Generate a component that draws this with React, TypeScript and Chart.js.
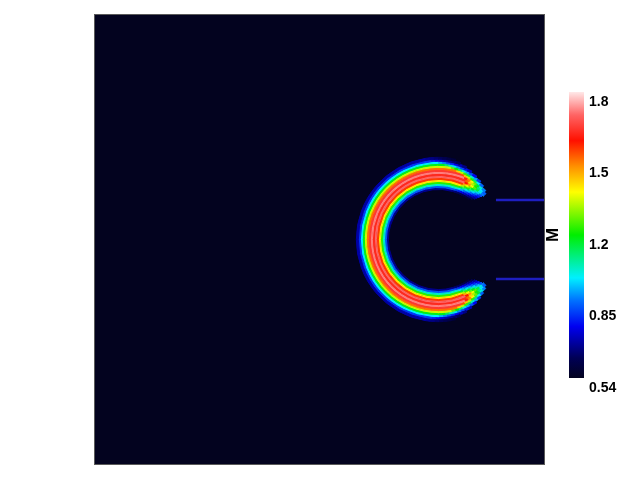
import { useEffect, useRef } from 'react'
import { Chart, registerables } from 'chart.js'

Chart.register(...registerables)
Chart.defaults.font.family = "'Liberation Sans', Arial, sans-serif"

// colour scale of the field M
const VALUE_MIN = 0.54
const VALUE_MAX = 1.8
const COLORBAR_TICKS = [0.54, 0.855, 1.17, 1.485, 1.8]
const COLORBAR_LABELS = ['0.54', '0.85', '1.2', '1.5', '1.8']
const COLOR_STOPS: [number, string][] = [
    [0, '#03031f'],
    [0.07, '#000055'],
    [0.18, '#0000f0'],
    [0.27, '#0070ff'],
    [0.35, '#00f0ff'],
    [0.5, '#00ee00'],
    [0.65, '#ffff00'],
    [0.74, '#ff9000'],
    [0.83, '#ff1000'],
    [0.92, '#ff6464'],
    [1, '#ffe8e8'],
]

// field domain is the unit square
const SLIT_X = [0.893, 1]
const SLIT_Y = [0.588, 0.412]

// the C shaped ring
const RING_CENTER = [0.766, 0.5]
const RING_OUTER = 0.183
const RING_INNER = 0.114
// M across the ring, outer edge -> inner edge
const LAYER_VALUES = [0.7, 0.82, 0.98, 1.15, 1.32, 1.5, 1.64, 1.72, 1.62, 1.7, 1.55, 1.38, 1.2, 1.02, 0.86, 0.68]
// angle (deg from the +x direction) where each layer ends at the open side
const LAYER_END_ANGLE = [78, 74, 69, 64, 59, 54, 50, 46, 44, 44, 45, 46, 47, 48, 50, 53]
// share of the value left in the steps towards the tips
const TIP_FADE = [0.9, 0.8, 0.7, 0.6, 0.5, 0.4, 0.3]
const TIP_STEP = 3

const BG = '#03031f'
const CLEAR = 'rgba(0,0,0,0)'

function hexRgb(h: string) {
    const n = parseInt(h.slice(1), 16)
    return [(n >> 16) & 255, (n >> 8) & 255, n & 255]
}

function colorFor(v: number) {
    const t = Math.min(1, Math.max(0, (v - VALUE_MIN) / (VALUE_MAX - VALUE_MIN)))
    for (let i = 1; i < COLOR_STOPS.length; i++) {
        const [t1, c1] = COLOR_STOPS[i]
        if (t <= t1) {
            const [t0, c0] = COLOR_STOPS[i - 1]
            const f = (t - t0) / (t1 - t0)
            const a = hexRgb(c0)
            const b = hexRgb(c1)
            const rgb = a.map((x, k) => Math.round(x + (b[k] - x) * f))
            return `rgb(${rgb.join(',')})`
        }
    }
    return COLOR_STOPS[COLOR_STOPS.length - 1][1]
}

const fieldFrame = {
    id: 'fieldFrame',
    beforeDatasetsDraw(chart: Chart) {
        const { ctx, chartArea: a } = chart
        ctx.save()
        ctx.fillStyle = BG
        ctx.fillRect(a.left, a.top, a.right - a.left, a.bottom - a.top)
        ctx.restore()
    },
    afterDatasetsDraw(chart: Chart) {
        const { ctx, chartArea: a } = chart
        ctx.save()
        ctx.strokeStyle = '#5a5a5a'
        ctx.lineWidth = 1
        ctx.strokeRect(a.left - 0.5, a.top - 0.5, a.right - a.left + 1, a.bottom - a.top + 1)
        ctx.restore()
    },
}

export default function App() {
    const mainRef = useRef<HTMLCanvasElement | null>(null)
    const ringRef = useRef<HTMLCanvasElement | null>(null)
    const barRef = useRef<HTMLCanvasElement | null>(null)

    useEffect(() => {
        document.body.style.margin = '0'
        if (!mainRef.current || !ringRef.current || !barRef.current) return

        const main = new Chart(mainRef.current, {
            type: 'scatter',
            data: {
                datasets: SLIT_Y.map(y => ({
                    data: SLIT_X.map(x => ({ x, y })),
                    showLine: true,
                    borderColor: '#1e1ec0',
                    borderWidth: 2.5,
                    pointRadius: 0,
                })),
            },
            options: {
                responsive: false,
                animation: false,
                events: [],
                layout: { padding: { left: 95, top: 15, right: 96, bottom: 16 } },
                scales: {
                    x: { type: 'linear', min: 0, max: 1, display: false },
                    y: { type: 'linear', min: 0, max: 1, display: false },
                },
                plugins: { legend: { display: false }, tooltip: { enabled: false } },
            },
            plugins: [fieldFrame],
        })

        // place the ring canvas from the field's scales
        const xs = main.scales.x
        const ys = main.scales.y
        const cx = xs.getPixelForValue(RING_CENTER[0])
        const cy = ys.getPixelForValue(RING_CENTER[1])
        const R = xs.getPixelForValue(RING_CENTER[0] + RING_OUTER) - cx
        const r = xs.getPixelForValue(RING_CENTER[0] + RING_INNER) - cx
        const size = Math.ceil(2 * R) + 4
        const rc = ringRef.current
        rc.width = size
        rc.height = size
        rc.style.left = `${cx - size / 2}px`
        rc.style.top = `${cy - size / 2}px`

        const ring = new Chart(rc, {
            type: 'doughnut',
            data: {
                datasets: LAYER_VALUES.map((v, i) => {
                    const gap = LAYER_END_ANGLE[i]
                    const tips = TIP_FADE.map(f => colorFor(VALUE_MIN + (v - VALUE_MIN) * f))
                    const body = 360 - 2 * gap - 2 * TIP_FADE.length * TIP_STEP
                    const steps = TIP_FADE.map(() => TIP_STEP)
                    const colors = [CLEAR, ...[...tips].reverse(), colorFor(v), ...tips, CLEAR]
                    return {
                        data: [gap, ...steps, body, ...steps, gap],
                        backgroundColor: colors,
                        borderColor: colors,
                        borderWidth: 1,
                    }
                }),
            },
            options: {
                responsive: false,
                animation: false,
                events: [],
                radius: R,
                cutout: r,
                rotation: 90,
                layout: { padding: 0 },
                plugins: { legend: { display: false }, tooltip: { enabled: false } },
            },
        })

        const colorbar = new Chart(barRef.current, {
            type: 'bar',
            data: {
                labels: ['M'],
                datasets: [
                    {
                        data: [[VALUE_MIN, VALUE_MAX]],
                        barPercentage: 1,
                        categoryPercentage: 1,
                        borderWidth: 0,
                        backgroundColor: (c: any) => {
                            const { ctx, chartArea } = c.chart
                            if (!chartArea) return CLEAR
                            const g = ctx.createLinearGradient(0, chartArea.bottom, 0, chartArea.top)
                            COLOR_STOPS.forEach(([t, col]) => g.addColorStop(t, col))
                            return g
                        },
                    },
                ],
            },
            options: {
                responsive: false,
                animation: false,
                events: [],
                layout: { padding: { top: 92, bottom: 102, left: 0, right: 0 } },
                scales: {
                    x: { display: false },
                    y: {
                        position: 'right',
                        min: VALUE_MIN,
                        max: VALUE_MAX,
                        afterBuildTicks: (s: any) => {
                            s.ticks = COLORBAR_TICKS.map(value => ({ value }))
                        },
                        afterFit: (s: any) => {
                            s.width = 56
                        },
                        grid: { display: false, drawTicks: false },
                        border: { display: false },
                        ticks: {
                            autoSkip: false,
                            labelOffset: 10,
                            padding: 5,
                            color: '#000',
                            font: { size: 14, weight: 'bold' },
                            callback: (_v: any, i: number) => COLORBAR_LABELS[i],
                        },
                    },
                    yLabel: {
                        axis: 'y',
                        type: 'linear',
                        position: 'left',
                        min: VALUE_MIN,
                        max: VALUE_MAX,
                        afterFit: (s: any) => {
                            s.width = 29
                        },
                        grid: { display: false, drawTicks: false },
                        border: { display: false },
                        ticks: { display: false },
                        title: {
                            display: true,
                            text: 'M',
                            color: '#000',
                            font: { size: 17, weight: 'bold' },
                            padding: { top: 3, bottom: 0 },
                        },
                    },
                },
                plugins: { legend: { display: false }, tooltip: { enabled: false } },
            },
        })

        return () => {
            main.destroy()
            ring.destroy()
            colorbar.destroy()
        }
    }, [])

    return (
        <div style={{ position: 'relative', width: 640, height: 480, background: '#fff' }}>
            <canvas ref={mainRef} width={640} height={480} style={{ display: 'block' }} />
            <canvas ref={ringRef} style={{ position: 'absolute' }} />
            <canvas ref={barRef} width={100} height={480} style={{ position: 'absolute', left: 540, top: 0 }} />
        </div>
    )
}
